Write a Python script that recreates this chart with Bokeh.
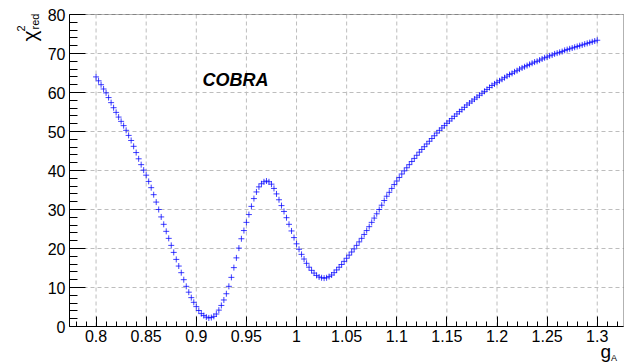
import math
from bokeh.plotting import figure
from bokeh.models import FixedTicker, Label, Range1d, NumeralTickFormatter, BoxAnnotation
from bokeh.embed import file_html
from bokeh.resources import INLINE

# ---------------- data ----------------
gA = [
    0.8, 0.8025, 0.805, 0.8075, 0.81, 0.8125, 0.815, 0.8175, 0.82, 0.8225,
    0.825, 0.8275, 0.83, 0.8325, 0.835, 0.8375, 0.84, 0.8425, 0.845, 0.8475,
    0.85, 0.8525, 0.855, 0.8575, 0.86, 0.8625, 0.865, 0.8675, 0.87, 0.8725,
    0.875, 0.8775, 0.88, 0.8825, 0.885, 0.8875, 0.89, 0.8925, 0.895, 0.8975,
    0.9, 0.9025, 0.905, 0.9075, 0.91, 0.9125, 0.915, 0.9175, 0.92, 0.9225,
    0.925, 0.9275, 0.93, 0.9325, 0.935, 0.9375, 0.94, 0.9425, 0.945, 0.9475,
    0.95, 0.9525, 0.955, 0.9575, 0.96, 0.9625, 0.965, 0.9675, 0.97, 0.9725,
    0.975, 0.9775, 0.98, 0.9825, 0.985, 0.9875, 0.99, 0.9925, 0.995, 0.9975,
    1.0, 1.0025, 1.005, 1.0075, 1.01, 1.0125, 1.015, 1.0175, 1.02, 1.0225,
    1.025, 1.0275, 1.03, 1.0325, 1.035, 1.0375, 1.04, 1.0425, 1.045, 1.0475,
    1.05, 1.0525, 1.055, 1.0575, 1.06, 1.0625, 1.065, 1.0675, 1.07, 1.0725,
    1.075, 1.0775, 1.08, 1.0825, 1.085, 1.0875, 1.09, 1.0925, 1.095, 1.0975,
    1.1, 1.1025, 1.105, 1.1075, 1.11, 1.1125, 1.115, 1.1175, 1.12, 1.1225,
    1.125, 1.1275, 1.13, 1.1325, 1.135, 1.1375, 1.14, 1.1425, 1.145, 1.1475,
    1.15, 1.1525, 1.155, 1.1575, 1.16, 1.1625, 1.165, 1.1675, 1.17, 1.1725,
    1.175, 1.1775, 1.18, 1.1825, 1.185, 1.1875, 1.19, 1.1925, 1.195, 1.1975,
    1.2, 1.2025, 1.205, 1.2075, 1.21, 1.2125, 1.215, 1.2175, 1.22, 1.2225,
    1.225, 1.2275, 1.23, 1.2325, 1.235, 1.2375, 1.24, 1.2425, 1.245, 1.2475,
    1.25, 1.2525, 1.255, 1.2575, 1.26, 1.2625, 1.265, 1.2675, 1.27, 1.2725,
    1.275, 1.2775, 1.28, 1.2825, 1.285, 1.2875, 1.29, 1.2925, 1.295, 1.2975,
    1.3,
]

chi2_red = [
    64.0, 63.0, 62.0, 60.9, 59.9, 58.7, 57.4, 56.1, 54.9, 53.7,
    52.6, 51.5, 50.3, 49.0, 47.7, 46.2, 44.6, 43.0, 41.5, 40.1,
    38.8, 37.2, 35.6, 33.8, 31.9, 30.0, 28.1, 26.2, 24.4, 22.6,
    20.8, 19.0, 17.2, 15.5, 13.8, 12.0, 10.3, 8.8, 7.4, 6.2,
    5.1, 4.1, 3.3, 2.8, 2.4, 2.2, 2.3, 2.6, 3.2, 4.2,
    5.4, 6.8, 8.4, 10.3, 12.6, 15.1, 17.6, 20.1, 22.5, 24.6,
    26.7, 28.7, 30.8, 32.8, 34.5, 35.8, 36.6, 37.1, 37.3, 37.1,
    36.5, 35.4, 34.0, 32.5, 31.0, 29.5, 27.9, 26.2, 24.5, 22.8,
    21.2, 19.8, 18.5, 17.3, 16.2, 15.2, 14.4, 13.7, 13.1, 12.7,
    12.5, 12.4, 12.5, 12.8, 13.2, 13.8, 14.5, 15.2, 15.9, 16.7,
    17.5, 18.3, 19.1, 19.9, 20.8, 21.7, 22.6, 23.6, 24.6, 25.6,
    26.7, 27.8, 28.9, 30.0, 31.1, 32.3, 33.4, 34.4, 35.4, 36.4,
    37.3, 38.2, 39.1, 39.9, 40.7, 41.5, 42.3, 43.1, 43.9, 44.7,
    45.4, 46.1, 46.8, 47.5, 48.2, 48.9, 49.6, 50.3, 50.9, 51.5,
    52.1, 52.7, 53.3, 53.9, 54.5, 55.1, 55.6, 56.2, 56.8, 57.3,
    57.8, 58.3, 58.8, 59.3, 59.8, 60.3, 60.8, 61.3, 61.8, 62.2,
    62.6, 63.0, 63.4, 63.8, 64.2, 64.6, 64.9, 65.3, 65.6, 66.0,
    66.3, 66.6, 66.9, 67.2, 67.5, 67.8, 68.0, 68.3, 68.6, 68.9,
    69.1, 69.4, 69.6, 69.9, 70.1, 70.3, 70.5, 70.8, 71.0, 71.2,
    71.4, 71.6, 71.8, 72.0, 72.2, 72.4, 72.6, 72.8, 73.0, 73.2,
    73.4,
]

x_ticks = [0.8, 0.85, 0.9, 0.95, 1.0, 1.05, 1.1, 1.15, 1.2, 1.25, 1.3]
x_tick_labels = ["0.8", "0.85", "0.9", "0.95", "1", "1.05", "1.1", "1.15", "1.2", "1.25", "1.3"]
x_minor = [0.78, 0.79, 0.81, 0.82, 0.83, 0.84, 0.86, 0.87, 0.88, 0.89, 0.91, 0.92, 0.93, 0.94,
           0.96, 0.97, 0.98, 0.99, 1.01, 1.02, 1.03, 1.04, 1.06, 1.07, 1.08, 1.09, 1.11, 1.12,
           1.13, 1.14, 1.16, 1.17, 1.18, 1.19, 1.21, 1.22, 1.23, 1.24, 1.26, 1.27, 1.28, 1.29,
           1.31, 1.32]
y_ticks = [0, 10, 20, 30, 40, 50, 60, 70, 80]
y_minor = [v for v in range(0, 81, 2) if v % 10 != 0]

# ---------------- layout (pixels of the 635x362 page) ----------------
W, H = 635, 362
FL, FR, FT, FB = 69, 623, 14, 326          # visible frame box in page pixels
XL, XR = 0.7735, 1.3262                    # x range of the visible frame
YB, YT = 0.0, 80.0                         # y range of the visible frame
sx = (FR - FL) / (XR - XL)
sy = (FB - FT) / (YT - YB)
X0, X1 = XL - FL / sx, XR + (W - FR) / sx  # whole-canvas data ranges
Y0, Y1 = YB - (H - FB) / sy, YT + FT / sy


def px2x(px):
    return XL + (px - FL) / sx


def py2y(py):
    return YB + (FB - py) / sy


FONT = "Liberation Sans"

p = figure(width=W, height=H, output_backend="svg", toolbar_location=None,
           title=None, min_border=0,
           x_range=Range1d(X0, X1), y_range=Range1d(Y0, Y1))
p.background_fill_color = "white"
p.border_fill_color = "white"
p.outline_line_color = None
p.xgrid.visible = False
p.ygrid.visible = False

# grid (dashed) along the major ticks, inside the visible frame only
p.segment(x0=x_ticks, y0=[YB] * len(x_ticks), x1=x_ticks, y1=[YT] * len(x_ticks),
          line_color="#bdbdbd", line_dash="4 3", line_width=1)
p.segment(x0=[XL] * len(y_ticks), y0=y_ticks, x1=[XR] * len(y_ticks), y1=y_ticks,
          line_color="#bdbdbd", line_dash="4 3", line_width=1)

# axes drawn at the visible frame edges
p.xaxis.fixed_location = YB
p.xaxis.bounds = (XL, XR)
p.yaxis.fixed_location = XL
p.yaxis.bounds = (YB, YT)

p.xaxis.ticker = FixedTicker(ticks=x_ticks, minor_ticks=x_minor)
p.xaxis.formatter = NumeralTickFormatter(format="0.[00]")
p.xaxis.major_label_overrides = {t: s for t, s in zip(x_ticks, x_tick_labels)}
p.yaxis.ticker = FixedTicker(ticks=y_ticks, minor_ticks=y_minor)

for ax in (p.xaxis, p.yaxis):
    ax.axis_line_color = "black"
    ax.major_tick_line_color = "black"
    ax.minor_tick_line_color = "black"
    ax.major_tick_out = 0
    ax.minor_tick_out = 0
    ax.major_label_text_font = FONT
    ax.major_label_text_font_size = "16px"
    ax.major_label_text_color = "black"

p.xaxis.major_tick_in = 10
p.xaxis.minor_tick_in = 5
p.xaxis.major_label_standoff = 3
p.yaxis.major_tick_in = 16
p.yaxis.minor_tick_in = 8
p.yaxis.major_label_standoff = 4

# frame box
p.add_layout(BoxAnnotation(left=XL, right=XR, bottom=YB, top=YT, fill_alpha=0,
                           line_color="black", line_width=1, level="overlay"))

# data points
p.scatter(x=gA, y=chi2_red, marker="cross", size=6, line_color="#0000ff",
          line_alpha=0.75, line_width=1)

# texts
p.add_layout(Label(x=px2x(202), y=py2y(79.5), text="COBRA", text_font=FONT,
                   text_font_style="bold italic", text_font_size="18px",
                   text_color="black", text_baseline="alphabetic"))

# y title: chi^2_red (rotated, right-aligned at the top of the axis)
p.add_layout(Label(x=px2x(29), y=py2y(41), text="χ", angle=math.pi / 2, text_font=FONT,
                   text_font_size="21px", text_color="black", text_baseline="alphabetic"))
p.add_layout(Label(x=px2x(20), y=py2y(31), text="2", angle=math.pi / 2, text_font=FONT,
                   text_font_size="11px", text_color="black", text_baseline="alphabetic"))
p.add_layout(Label(x=px2x(34), y=py2y(29), text="red", angle=math.pi / 2, text_font=FONT,
                   text_font_size="11px", text_color="black", text_baseline="alphabetic"))

# x title: g_A
p.add_layout(Label(x=px2x(600), y=py2y(351), text="g", text_font=FONT,
                   text_font_size="19px", text_color="black", text_baseline="alphabetic"))
p.add_layout(Label(x=px2x(610.5), y=py2y(357.5), text="A", text_font=FONT,
                   text_font_size="9px", text_color="black", text_baseline="alphabetic"))

open("out.html", "w").write(file_html(p, INLINE))
